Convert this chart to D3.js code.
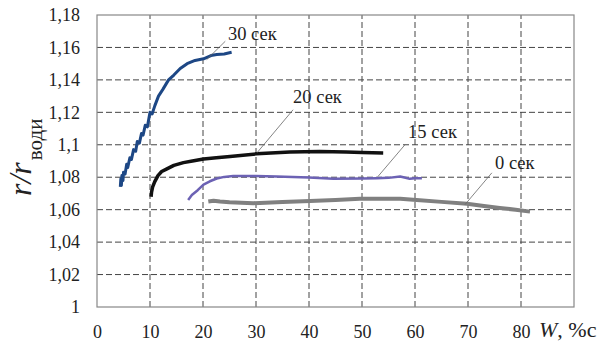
<!DOCTYPE html>
<html>
<head>
<meta charset="utf-8">
<script src="https://cdn.jsdelivr.net/npm/d3@7"></script>
</head>
<body style="margin:0; background:#fff">
<div id="chart"></div>
<script>
// data
const xTicks = [0, 10, 20, 30, 40, 50, 60, 70, 80];
const yTicks = [1, 1.02, 1.04, 1.06, 1.08, 1.1, 1.12, 1.14, 1.16, 1.18];

const w30 = [4.4, 4.5, 4.6, 4.7, 4.9, 5.0, 5.3, 5.6, 5.8, 6.2, 6.5, 6.9, 7.3, 7.6, 8.0, 8.4, 8.7, 9.1, 9.5, 10.0, 10.4, 10.9, 11.6, 12.4, 13.5, 14.5, 15.7, 17.0, 18.5, 20.1, 21.5, 22.6, 24.0, 25.4];
const r30 = [1.074, 1.079, 1.075, 1.081, 1.078, 1.083, 1.082, 1.088, 1.086, 1.092, 1.091, 1.097, 1.096, 1.102, 1.101, 1.107, 1.106, 1.112, 1.111, 1.120, 1.119, 1.124, 1.130, 1.134, 1.140, 1.143, 1.147, 1.150, 1.152, 1.153, 1.155, 1.1556, 1.156, 1.157];

const w20 = [10.2, 10.3, 10.5, 10.9, 11.5, 12.2, 13.1, 14.5, 16.3, 18, 20.1, 22.5, 25.1, 30.1, 36.4, 42, 47, 50, 54];
const r20 = [1.068, 1.071, 1.074, 1.0773, 1.081, 1.0835, 1.085, 1.0873, 1.089, 1.090, 1.0912, 1.092, 1.0928, 1.0944, 1.0955, 1.0958, 1.0955, 1.0952, 1.095];

const w15 = [17.2, 17.9, 19, 20.1, 21.3, 22.6, 24, 25.7, 30, 33.9, 40, 44.6, 50, 52.8, 55, 57.2, 58, 59, 60, 61.3];
const r15 = [1.066, 1.069, 1.072, 1.0755, 1.0775, 1.0792, 1.0802, 1.0808, 1.0808, 1.0804, 1.0798, 1.079, 1.0792, 1.0794, 1.0796, 1.0804, 1.0798, 1.079, 1.0793, 1.0794];

const w0 = [21, 22, 23.2, 25, 29.5, 35, 40.2, 45, 49.6, 54, 57.2, 60.3, 65, 69.8, 73, 76, 79, 81.7];
const r0 = [1.065, 1.0655, 1.065, 1.0645, 1.064, 1.0648, 1.0654, 1.066, 1.0667, 1.0668, 1.0667, 1.066, 1.0648, 1.0636, 1.0622, 1.061, 1.06, 1.0588];

const series = [
  { name: '0 сек', w: w0, r: r0, color: '#808080', width: 4 },
  { name: '15 сек', w: w15, r: r15, color: '#6c62b4', width: 2.5 },
  { name: '20 сек', w: w20, r: r20, color: '#111111', width: 3.5 },
  { name: '30 сек', w: w30, r: r30, color: '#1d4785', width: 3 }
];

// label anchors in data units: point on curve, end of leader, text start
const notes = [
  { text: '30 сек', at: [20.7, 1.1525], end: [24.2, 1.1638], label: [24.7, 1.1648] },
  { text: '20 сек', at: [30.2, 1.0951], end: [37, 1.1216], label: [37, 1.126] },
  { text: '15 сек', at: [53, 1.0804], end: [58.1, 1.1], label: [58.7, 1.1043] },
  { text: '0 сек', at: [69.4, 1.063], end: [74.5, 1.0827], label: [75.1, 1.0852] }
];

const width = 606, height = 343;
const margin = { top: 15, right: 32, bottom: 36, left: 97 };
const serif = 'Liberation Serif';

const svg = d3.select('#chart').append('svg')
  .attr('width', width)
  .attr('height', height)
  .attr('font-family', serif);

const x = d3.scaleLinear().domain([0, 90]).range([margin.left, width - margin.right]);
const y = d3.scaleLinear().domain([1, 1.18]).range([height - margin.bottom, margin.top]);

// grid
svg.append('g')
  .selectAll('line')
  .data(xTicks.slice(1))
  .join('line')
  .attr('x1', d => x(d)).attr('x2', d => x(d))
  .attr('y1', y(1)).attr('y2', y(1.18))
  .attr('stroke', '#444').attr('stroke-width', 1).attr('stroke-dasharray', '6,3');

svg.append('g')
  .selectAll('line')
  .data(yTicks.slice(1, -1))
  .join('line')
  .attr('x1', x(0)).attr('x2', x(90))
  .attr('y1', d => y(d)).attr('y2', d => y(d))
  .attr('stroke', '#444').attr('stroke-width', 1).attr('stroke-dasharray', '6,3');

// frame
svg.append('rect')
  .attr('x', x(0)).attr('y', y(1.18))
  .attr('width', x(90) - x(0)).attr('height', y(1) - y(1.18))
  .attr('fill', 'none').attr('stroke', '#888').attr('stroke-width', 1.2);

// axes (labels only)
const fmt = d => d3.format('.2~f')(d).replace('.', ',');

const xAxis = svg.append('g')
  .attr('transform', `translate(0,${y(1)})`)
  .call(d3.axisBottom(x).tickValues(xTicks).tickSize(0).tickPadding(18))
  .attr('font-family', serif).attr('font-size', 18);
xAxis.select('.domain').remove();
xAxis.selectAll('text').attr('fill', '#222');

const yAxis = svg.append('g')
  .attr('transform', `translate(${x(0)},0)`)
  .call(d3.axisLeft(y).tickValues(yTicks).tickFormat(fmt).tickSize(0).tickPadding(17))
  .attr('font-family', serif).attr('font-size', 18);
yAxis.select('.domain').remove();
yAxis.selectAll('text').attr('fill', '#222');

// curves
const line = d3.line().x(d => x(d[0])).y(d => y(d[1]));

svg.append('g')
  .selectAll('path')
  .data(series)
  .join('path')
  .attr('d', s => line(s.w.map((w, i) => [w, s.r[i]])))
  .attr('fill', 'none')
  .attr('stroke', s => s.color)
  .attr('stroke-width', s => s.width)
  .attr('stroke-linejoin', 'round');

// leaders and labels
const g = svg.append('g');
g.selectAll('line')
  .data(notes)
  .join('line')
  .attr('x1', d => x(d.at[0])).attr('y1', d => y(d.at[1]))
  .attr('x2', d => x(d.end[0])).attr('y2', d => y(d.end[1]))
  .attr('stroke', '#666').attr('stroke-width', 0.8);

g.selectAll('text')
  .data(notes)
  .join('text')
  .attr('x', d => x(d.label[0])).attr('y', d => y(d.label[1]))
  .attr('font-family', serif).attr('font-size', 18.5).attr('fill', '#222')
  .text(d => d.text);

// axis titles
const yt = svg.append('text')
  .attr('transform', 'translate(31,196) rotate(-90)')
  .attr('font-family', serif)
  .attr('fill', '#222');
yt.append('tspan').attr('font-size', 32).attr('font-style', 'italic').text('r/r');
yt.append('tspan').attr('font-size', 21).attr('dy', 11).attr('dx', 2).text('води');

const xt = svg.append('text')
  .attr('x', 539).attr('y', 337)
  .attr('font-family', serif)
  .attr('fill', '#222');
xt.append('tspan').attr('font-size', 22).attr('font-style', 'italic').text('W');
xt.append('tspan').attr('font-size', 22).text(', %с');
</script>
</body>
</html>
